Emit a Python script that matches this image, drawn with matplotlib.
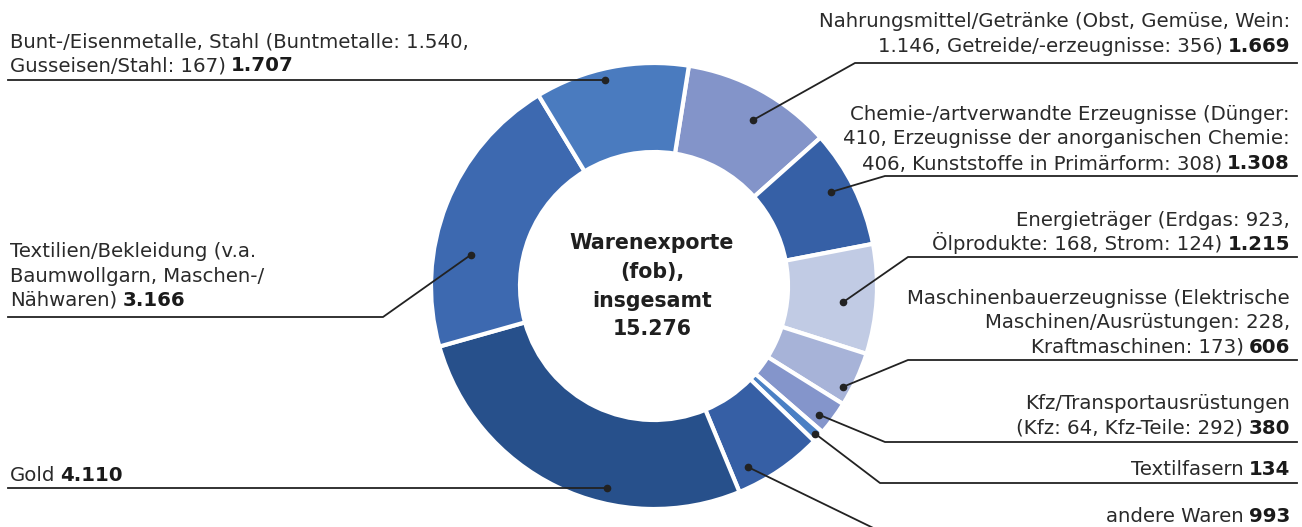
import matplotlib
matplotlib.use('Agg')
import matplotlib.pyplot as plt
import numpy as np

# ---------------- data ----------------
categories = [
    "Nahrungsmittel/Getränke", "Chemie-/artverwandte Erzeugnisse", "Energieträger",
    "Maschinenbauerzeugnisse", "Kfz/Transportausrüstungen", "Textilfasern",
    "andere Waren", "Gold", "Textilien/Bekleidung", "Bunt-/Eisenmetalle, Stahl",
]
values = [1669, 1308, 1215, 606, 380, 134, 993, 4110, 3166, 1707]
value_labels = ["1.669", "1.308", "1.215", "606", "380", "134", "993", "4.110", "3.166", "1.707"]
label_lines = [
    ["Nahrungsmittel/Getränke (Obst, Gemüse, Wein:", "1.146, Getreide/-erzeugnisse: 356)"],
    ["Chemie-/artverwandte Erzeugnisse (Dünger:", "410, Erzeugnisse der anorganischen Chemie:",
     "406, Kunststoffe in Primärform: 308)"],
    ["Energieträger (Erdgas: 923,", "Ölprodukte: 168, Strom: 124)"],
    ["Maschinenbauerzeugnisse (Elektrische", "Maschinen/Ausrüstungen: 228,", "Kraftmaschinen: 173)"],
    ["Kfz/Transportausrüstungen", "(Kfz: 64, Kfz-Teile: 292)"],
    ["Textilfasern"],
    ["andere Waren"],
    ["Gold"],
    ["Textilien/Bekleidung (v.a.", "Baumwollgarn, Maschen-/", "Nähwaren)"],
    ["Bunt-/Eisenmetalle, Stahl (Buntmetalle: 1.540,", "Gusseisen/Stahl: 167)"],
]
center_lines = ["Warenexporte", "(fob),", "insgesamt", "15.276"]
colors = ["#8394c9", "#3660a6", "#c1cbe4", "#a7b3d8", "#8495cb",
          "#4a80c4", "#365fa5", "#27508b", "#3d69b0", "#4a7bbf"]

# ---------------- layout (pixel space) ----------------
W, H = 1302, 527
cx, cy, R, RW = 654, 286, 223, 89
def Y(y):
    return H - y

# side, baselines of text lines, underline y, corner x, dot (fraction along slice, radius fraction)
layout = [
    ("R", [26.7, 51.7], 63, 855, (0.555, 0.866)),
    ("R", [120, 144.5, 169], 176, 885, (0.445, 0.897)),
    ("R", [225.7, 250], 257, 908, (0.55, 0.852)),
    ("R", [304.3, 328.5, 352.7], 360, 908, (0.73, 0.96)),
    ("R", [409.3, 434], 442, 885, (0.67, 0.937)),
    ("R", [475], 483, 880, (0.5, 0.98)),
    ("R", [521.7], 540, 898, (0.79, 0.915)),
    ("L", [481], None, None, (0.368, 0.928)),
    ("L", [257.3, 281.7, 306], 317, 383, (0.34, 0.834)),
    ("L", [47.3, 71], None, None, (0.443, 0.95)),
]

FONT = "DejaVu Sans"
FS = 14.2
TXT = "#2a2a2a"
LINE = "#222222"

fig = plt.figure(figsize=(W / 100, H / 100), dpi=100)
ax = fig.add_axes([0, 0, 1, 1])
wedges, _ = ax.pie(values, colors=colors, startangle=81, counterclock=False,
                   center=(cx, Y(cy)), radius=R,
                   wedgeprops=dict(width=RW, edgecolor="white", linewidth=3.0))
ax.set_xlim(0, W)
ax.set_ylim(0, H)
ax.set_aspect("auto")
ax.axis("off")

renderer = fig.canvas.get_renderer()
XR, XL = 1290, 10

for w, lines, val, (side, bases, uy, cxr, (f, rf)) in zip(wedges, label_lines, value_labels, layout):
    th = np.deg2rad(w.theta2 - f * (w.theta2 - w.theta1))
    dx = cx + rf * R * np.cos(th)
    dy = Y(cy) + rf * R * np.sin(th)
    ax.plot([dx], [dy], "o", color=LINE, ms=4.5, zorder=5)
    if side == "R":
        ax.plot([dx, cxr, 1297], [dy, Y(uy), Y(uy)], color=LINE, lw=1.3, zorder=4, clip_on=True)
        for ln, b in zip(lines[:-1], bases[:-1]):
            ax.text(XR, Y(b), ln, ha="right", va="baseline", fontsize=FS, family=FONT, color=TXT)
        tb = ax.text(XR, Y(bases[-1]), val, ha="right", va="baseline", fontsize=FS,
                     family=FONT, weight="bold", color="#1a1a1a")
        bw = tb.get_window_extent(renderer).width
        ax.text(XR - bw - 5, Y(bases[-1]), lines[-1], ha="right", va="baseline",
                fontsize=FS, family=FONT, color=TXT)
    else:
        if uy is None:
            ax.plot([dx, 8], [dy, dy], color=LINE, lw=1.3, zorder=4)
        else:
            ax.plot([dx, cxr, 8], [dy, Y(uy), Y(uy)], color=LINE, lw=1.3, zorder=4)
        for ln, b in zip(lines[:-1], bases[:-1]):
            ax.text(XL, Y(b), ln, ha="left", va="baseline", fontsize=FS, family=FONT, color=TXT)
        tr = ax.text(XL, Y(bases[-1]), lines[-1], ha="left", va="baseline", fontsize=FS,
                     family=FONT, color=TXT)
        rw = tr.get_window_extent(renderer).width
        ax.text(XL + rw + 5, Y(bases[-1]), val, ha="left", va="baseline", fontsize=FS,
                family=FONT, weight="bold", color="#1a1a1a")

center_bases = [249.3, 278, 306.7, 335]
for ln, b in zip(center_lines, center_bases):
    ax.text(652, Y(b), ln, ha="center", va="baseline", fontsize=14.8, family=FONT,
            weight="bold", color="#1f1f1f")

fig.savefig("out.png", dpi=100)
